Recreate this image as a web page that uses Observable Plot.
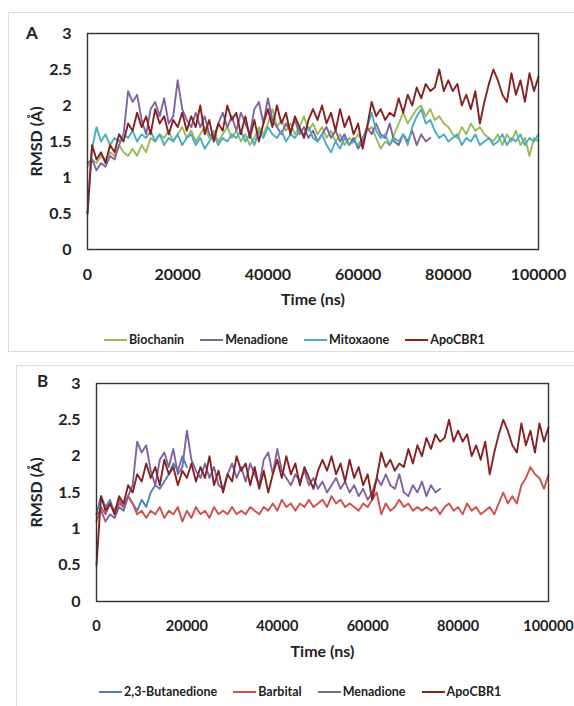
<!DOCTYPE html>
<html>
<head>
<meta charset="utf-8">
<script src="https://cdn.jsdelivr.net/npm/d3@7"></script>
<script src="https://cdn.jsdelivr.net/npm/@observablehq/plot@0.6"></script>
<style>
  html, body { margin: 0; padding: 0; background: #fff; }
  #page { position: relative; width: 574px; height: 706px; overflow: hidden; font-family: Lato, "Open Sans", sans-serif; font-weight: bold; color: #222; }
  .box { position: absolute; border: 1px solid #dcdcdc; }
  .plot { position: absolute; left: 0; }
  .tag { position: absolute; font-size: 17px; font-weight: bold; line-height: 1; }
  .legend { position: absolute; display: flex; align-items: center; gap: 16px; font-size: 12.5px; white-space: nowrap; }
  .legend .item { display: flex; align-items: center; gap: 2px; }
  .legend .sw { display: inline-block; width: 23px; height: 2px; }
</style>
</head>
<body>
<div id="page">
  <div class="box" style="left:8px; top:12px; width:580px; height:338px;"></div>
  <div class="box" style="left:16px; top:365px; width:580px; height:360px;"></div>
  <div id="plotA" class="plot" style="top:0px;"></div>
  <div id="plotB" class="plot" style="top:350px;"></div>
  <div class="tag" style="left:26px; top:24px;">A</div>
  <div class="tag" style="left:37px; top:372px;">B</div>
  <div id="legA" class="legend" style="left:104px; top:332px;"></div>
  <div id="legB" class="legend" style="left:99px; top:684px;"></div>
</div>
<script>
// Sample times (ns), one every 1000 ns
const times = d3.range(0, 100001, 1000);

const yTicks = [0, 0.5, 1, 1.5, 2, 2.5, 3];
const xTicks = [0, 20000, 40000, 60000, 80000, 100000];

const apoCBR1 = [0.5,1.45,1.25,1.35,1.2,1.45,1.35,1.6,1.5,1.75,
  1.65,1.9,1.7,1.85,1.6,1.95,1.75,1.85,1.6,1.8,
  1.7,1.9,1.65,1.85,1.7,2.0,1.6,1.8,1.5,1.75,
  1.65,2.0,1.8,1.9,1.6,1.85,1.55,1.8,1.5,1.75,
  1.95,1.7,2.0,1.75,1.9,1.6,1.85,1.7,1.55,1.8,
  1.95,1.8,2.0,1.75,1.9,1.65,1.95,1.7,1.85,1.6,
  1.75,1.4,1.7,2.05,1.85,1.95,1.8,1.9,1.85,2.1,
  1.9,2.15,2.0,2.25,2.1,2.3,2.2,2.25,2.5,2.2,
  2.35,2.2,2.3,2.0,2.15,1.95,2.2,1.75,2.05,2.3,
  2.5,2.35,2.15,2.05,2.45,2.15,2.35,2.05,2.45,2.2,2.4];

const menadione = [1.2,1.25,1.1,1.2,1.15,1.3,1.25,1.45,1.6,2.2,
  2.05,2.15,1.8,1.6,1.95,2.05,1.85,2.1,1.75,1.85,
  2.35,1.95,1.8,1.7,1.9,1.7,1.85,1.6,1.55,1.75,
  1.9,1.7,1.85,1.65,1.9,1.75,1.6,1.95,2.05,1.75,
  2.1,1.8,1.7,1.6,1.75,1.65,1.8,1.6,1.7,1.55,
  1.65,1.5,1.6,1.7,1.55,1.65,1.5,1.6,1.45,1.55,
  1.4,1.5,1.7,1.6,1.75,1.6,1.55,1.75,1.5,1.45,
  1.6,1.5,1.65,1.45,1.6,1.5,1.55];

const biochanin = [1.15,1.25,1.2,1.3,1.25,1.35,1.3,1.45,1.35,1.3,
  1.4,1.3,1.45,1.35,1.55,1.5,1.6,1.55,1.65,1.5,
  1.6,1.7,1.55,1.65,1.5,1.6,1.7,1.55,1.65,1.5,
  1.6,1.7,1.55,1.65,1.5,1.6,1.45,1.55,1.7,1.6,
  1.75,1.95,1.7,1.8,1.65,1.75,1.6,1.7,1.85,1.65,
  1.75,1.6,1.7,1.55,1.65,1.5,1.6,1.45,1.55,1.5,
  1.6,1.5,1.65,1.7,1.55,1.4,1.5,1.45,1.6,1.75,
  1.9,1.75,1.85,1.95,2.0,1.85,1.95,1.8,1.85,1.75,
  1.7,1.6,1.55,1.7,1.6,1.75,1.65,1.7,1.6,1.55,
  1.5,1.6,1.45,1.6,1.5,1.65,1.45,1.55,1.3,1.55,1.5];

const mitoxaone = [0.5,1.4,1.7,1.5,1.6,1.45,1.55,1.5,1.6,1.55,
  1.65,1.5,1.6,1.55,1.65,1.5,1.6,1.45,1.55,1.5,
  1.6,1.45,1.55,1.6,1.45,1.55,1.4,1.5,1.6,1.45,
  1.55,1.5,1.6,1.55,1.65,1.5,1.6,1.45,1.65,1.55,
  1.7,1.6,1.55,1.65,1.5,1.6,1.55,1.65,1.6,1.7,
  1.55,1.5,1.6,1.45,1.35,1.5,1.4,1.55,1.45,1.5,
  1.45,1.55,1.7,1.9,1.65,1.55,1.6,1.45,1.55,1.5,
  1.6,1.45,1.7,1.85,1.95,1.75,1.8,1.65,1.55,1.6,
  1.5,1.55,1.6,1.45,1.55,1.5,1.6,1.45,1.5,1.55,
  1.45,1.5,1.6,1.45,1.55,1.5,1.6,1.45,1.55,1.5,1.6];

const butanedione = [1.2,1.45,1.3,1.4,1.2,1.35,1.3,1.45,1.35,1.25,
  1.4,1.3,1.5,1.6,1.55,1.65,1.75,1.9,1.8,2.0,1.85];

const barbital = [1.1,1.3,1.2,1.35,1.25,1.4,1.3,1.45,1.35,1.2,
  1.25,1.15,1.25,1.2,1.3,1.15,1.25,1.2,1.3,1.1,
  1.25,1.15,1.3,1.2,1.25,1.15,1.3,1.2,1.25,1.2,
  1.3,1.2,1.25,1.2,1.3,1.25,1.2,1.3,1.25,1.35,
  1.25,1.4,1.3,1.35,1.25,1.35,1.3,1.4,1.3,1.35,
  1.4,1.3,1.45,1.35,1.4,1.3,1.35,1.3,1.25,1.35,
  1.3,1.4,1.5,1.2,1.35,1.25,1.3,1.4,1.3,1.35,
  1.25,1.3,1.25,1.3,1.25,1.3,1.2,1.3,1.35,1.25,
  1.3,1.2,1.35,1.25,1.3,1.2,1.25,1.3,1.2,1.35,
  1.5,1.35,1.45,1.35,1.6,1.7,1.85,1.75,1.7,1.55,1.75];

const seriesA = ["Biochanin", "Menadione", "Mitoxaone", "ApoCBR1"];
const valuesA = [biochanin, menadione, mitoxaone, apoCBR1];
const colorsA = ["#9BBB59", "#8064A2", "#4BACC6", "#862224"];

const seriesB = ["2,3-Butanedione", "Barbital", "Menadione", "ApoCBR1"];
const valuesB = [butanedione, barbital, menadione, apoCBR1];
const colorsB = ["#4F81BD", "#D0504D", "#8064A2", "#862224"];

function rows(names, values) {
  return names.flatMap((name, k) => values[k].map((v, i) => ({series: name, time: times[i], rmsd: v})));
}

function panel(names, values, colors, margins) {
  return Plot.plot({
    width: 574,
    height: 290,
    marginLeft: margins.left,
    marginRight: margins.right,
    marginTop: 33,
    marginBottom: margins.bottom,
    style: {fontFamily: "Lato, 'Open Sans', sans-serif", fontWeight: "bold", fontSize: "16px", color: "#222", background: "transparent", overflow: "visible"},
    x: {domain: [0, 100000]},
    y: {domain: [0, 3]},
    color: {domain: names, range: colors},
    marks: [
      Plot.axisX({ticks: xTicks, tickSize: 0, tickPadding: 19, tickFormat: d => String(d), label: null, fontSize: margins.xFont}),
      Plot.axisX({ticks: [], label: "Time (ns)", labelAnchor: "center", labelOffset: 55, labelArrow: "none", fontSize: 16}),
      Plot.axisY({ticks: yTicks, tickSize: 0, tickPadding: 16, tickFormat: d => String(d),
        label: "RMSD (Å)", labelAnchor: "center", labelOffset: margins.left - 30, labelArrow: "none", fontSize: 16}),
      Plot.lineY(rows(names, values), {x: "time", y: "rmsd", z: "series", stroke: "series", strokeWidth: 1.9}),
      Plot.frame({stroke: "#333", strokeWidth: 1.4})
    ]
  });
}

document.getElementById("plotA").append(panel(seriesA, valuesA, colorsA, {left: 87, right: 36, bottom: 41, xFont: 16}));
document.getElementById("plotB").append(panel(seriesB, valuesB, colorsB, {left: 96, right: 26, bottom: 39, xFont: 14.5}));

function legend(id, names, colors) {
  const el = document.getElementById(id);
  names.forEach((n, i) => {
    const item = document.createElement("div");
    item.className = "item";
    const sw = document.createElement("span");
    sw.className = "sw";
    sw.style.background = colors[i];
    const tx = document.createElement("span");
    tx.textContent = n;
    item.append(sw, tx);
    el.append(item);
  });
}
legend("legA", seriesA, colorsA);
legend("legB", seriesB, colorsB);
</script>
</body>
</html>
